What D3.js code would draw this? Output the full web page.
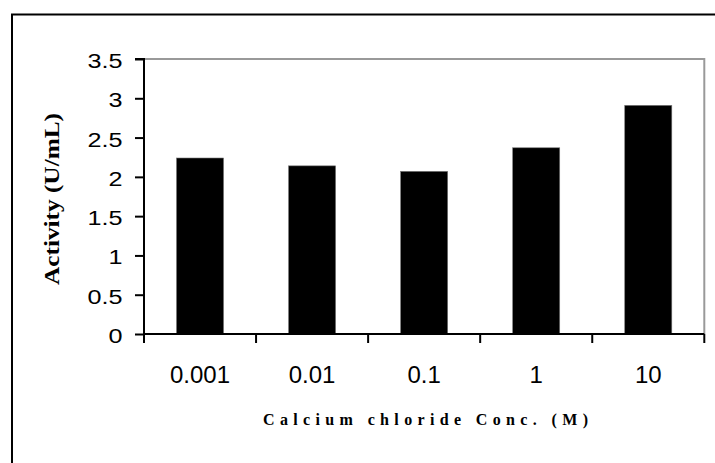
<!DOCTYPE html>
<html>
<head>
<meta charset="utf-8">
<script src="https://cdn.jsdelivr.net/npm/d3@7"></script>
<style>
  html, body { margin: 0; padding: 0; background: #fff; }
  svg { display: block; }
</style>
</head>
<body>
<script>
const categories = ["0.001", "0.01", "0.1", "1", "10"];
const activity = [2.24, 2.14, 2.07, 2.37, 2.91];
const yTicks = [0, 0.5, 1, 1.5, 2, 2.5, 3, 3.5];
const yTitle = "Activity (U/mL)";
const xTitle = "Calcium chloride Conc. (M)";

(function () {
const W = 715, H = 463;
const svg = d3.select("body").append("svg").attr("width", W).attr("height", H);
svg.append("rect").attr("width", W).attr("height", H).attr("fill", "#fff");

// outer chart border (runs off right/bottom edges)
svg.append("rect").attr("x", 12).attr("y", 14.5).attr("width", W + 10).attr("height", H + 10)
  .attr("fill", "none").attr("stroke", "#000").attr("stroke-width", 2);

const pL = 144, pR = 704.3, pT = 59, pB = 334;
const x = d3.scaleBand().domain(categories).range([pL, pR]).paddingInner(0.58).paddingOuter(0.29);
const y = d3.scaleLinear().domain([0, 3.5]).range([pB, pT]);

// plot frame top & right (gray)
svg.append("path").attr("d", `M${pL},${pT}H${pR}V${pB}`)
  .attr("fill", "none").attr("stroke", "#999").attr("stroke-width", 2);

// bars
svg.append("g").selectAll("rect").data(activity).join("rect")
  .attr("x", (d, i) => x(categories[i]))
  .attr("width", x.bandwidth())
  .attr("y", d => y(d))
  .attr("height", d => y(0) - y(d))
  .attr("fill", "#000").attr("stroke", "#777").attr("stroke-width", 0.6);

// y axis
const ga = svg.append("g").attr("transform", `translate(${pL},0)`)
  .call(d3.axisLeft(y).tickValues(yTicks).tickSize(9).tickPadding(12).tickFormat(d3.format("")));
ga.select(".domain").attr("stroke", "#000").attr("stroke-width", 2).attr("d", `M-9,${pT}H0V${pB}`);
ga.selectAll(".tick line").attr("stroke", "#000").attr("stroke-width", 2);
ga.selectAll(".tick text")
  .attr("x", null).attr("dy", "0.36em")
  .attr("transform", "translate(-21.5,1) scale(1.2,1)")
  .attr("font-family", "Arial, 'Liberation Sans', sans-serif")
  .attr("font-size", 21).attr("fill", "#000");

// x axis: labels from band scale, ticks at category boundaries
const gx = svg.append("g").attr("transform", `translate(0,${pB})`)
  .call(d3.axisBottom(x).tickSize(0).tickPadding(0));
gx.select(".domain").remove();
gx.selectAll(".tick text")
  .attr("y", 48.7).attr("dy", 0)
  .attr("font-family", "Arial, 'Liberation Sans', sans-serif")
  .attr("font-size", 24).attr("fill", "#000");
gx.append("line").attr("x1", pL).attr("x2", pR).attr("y1", 0).attr("y2", 0)
  .attr("stroke", "#000").attr("stroke-width", 2);
const bounds = d3.range(categories.length + 1).map(i => x.range()[0] + i * x.step());
gx.selectAll("line.bt").data(bounds).join("line").attr("class", "bt")
  .attr("x1", d => d).attr("x2", d => d).attr("y1", 0).attr("y2", 9)
  .attr("stroke", "#000").attr("stroke-width", 2);

// titles
svg.append("text")
  .attr("transform", "translate(59,199) rotate(-90)")
  .attr("text-anchor", "middle")
  .attr("font-family", "'Times New Roman', 'Liberation Serif', serif")
  .attr("font-weight", "bold").attr("font-size", 21)
  .attr("textLength", 172).attr("lengthAdjust", "spacingAndGlyphs")
  .text(yTitle);

svg.append("text")
  .attr("x", 425.5).attr("y", 425)
  .attr("text-anchor", "middle")
  .attr("font-family", "'Times New Roman', 'Liberation Serif', serif")
  .attr("font-weight", "bold").attr("font-size", 16)
  .attr("textLength", 325).attr("lengthAdjust", "spacing")
  .text(xTitle);
})();
</script>
</body>
</html>
